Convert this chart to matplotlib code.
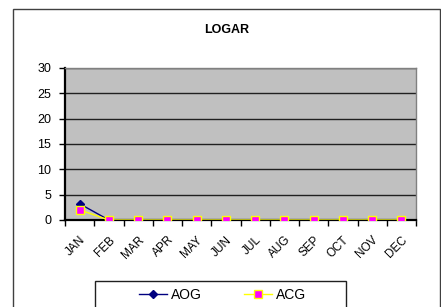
import matplotlib
matplotlib.use("Agg")
import matplotlib.pyplot as plt
from matplotlib.patches import Rectangle

months = ["JAN", "FEB", "MAR", "APR", "MAY", "JUN", "JUL", "AUG", "SEP", "OCT", "NOV", "DEC"]
aog = [3.2, 0, 0, 0, 0, 0, 0, 0, 0, 0, 0, 0]
acg = [2, 0, 0, 0, 0, 0, 0, 0, 0, 0, 0, 0]
yticks = [0, 5, 10, 15, 20, 25, 30]
title = "LOGAR"

plt.rcParams['font.family'] = ['Liberation Sans', 'DejaVu Sans']

W, H = 441, 307
fig = plt.figure(figsize=(W / 100, H / 100), dpi=100)

# outer chart border
fig.patches.append(Rectangle((13 / W, -0.1), (440 - 13) / W, 1.1 - 9 / H,
                             transform=fig.transFigure, fill=False,
                             edgecolor="#404040", linewidth=1.0))
# legend frame (runs off the bottom like the reference)
fig.patches.append(Rectangle((95 / W, -0.1), (346 - 95) / W, 0.1 + 1 - 281 / H,
                             transform=fig.transFigure, fill=False,
                             edgecolor="#202020", linewidth=1.0))

left, right, top, bottom = 65, 416, 68, 220
ax = fig.add_axes([left / W, 1 - bottom / H, (right - left) / W, (bottom - top) / H])
ax.set_facecolor("#C0C0C0")

x = list(range(len(months)))
ax.plot(x, aog, color="#000080", linewidth=1.0, marker="D", markersize=4.5,
        markerfacecolor="#000080", markeredgecolor="#000080", label="AOG", zorder=4)
ax.plot(x, acg, color="#FFFF00", linewidth=1.0, marker="s", markersize=6,
        markerfacecolor="#FF00FF", markeredgecolor="#FFFF00", markeredgewidth=1.0,
        label="ACG", zorder=5)

ax.set_xlim(-0.5, len(months) - 0.5)
ax.set_ylim(0, 30)
ax.set_yticks(yticks)
ax.set_yticklabels([str(v) for v in yticks], fontsize=9)
ax.yaxis.grid(True, color="#202020", linewidth=1.0)
ax.set_axisbelow(True)

ax.set_xticks(x)
ax.set_xticklabels(months, rotation=45, ha="right", rotation_mode="anchor", fontsize=8.5)
ax.tick_params(axis="x", length=0, pad=10)
ax.set_xticks([i - 0.5 for i in range(len(months) + 1)], minor=True)
ax.tick_params(axis="x", which="minor", length=4, width=1, direction="out", color="black")
ax.tick_params(axis="y", length=4, width=1, direction="out", pad=6)

for s in ["left", "bottom"]:
    ax.spines[s].set_color("black")
    ax.spines[s].set_linewidth(1.6)
for s in ["top", "right"]:
    ax.spines[s].set_color("#808080")
    ax.spines[s].set_linewidth(1.0)

fig.text(226.5 / W, 1 - 30 / H, title, ha="center", va="center",
         fontsize=9, fontweight="bold")

leg = fig.legend(loc="center", bbox_to_anchor=(222.5 / W, 1 - 295 / H),
                 ncol=2, fontsize=10, frameon=False,
                 handlelength=2.0, handletextpad=0.25, columnspacing=3.1,
                 borderpad=0)

fig.savefig("out.png", dpi=100)
